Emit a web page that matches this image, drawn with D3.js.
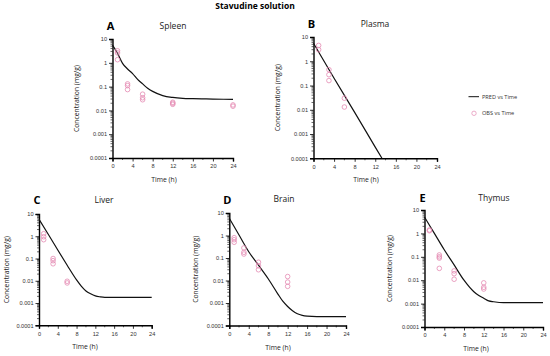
<!DOCTYPE html>
<html>
<head>
<meta charset="utf-8">
<script src="https://cdn.jsdelivr.net/npm/d3@7"></script>
<style>
  body { margin: 0; background: #fff; }
  svg { font-family: "Open Sans", sans-serif; }
</style>
</head>
<body>
<svg width="550" height="356"></svg>
<script>
// ---- data ----
var tissues = ["Spleen", "Plasma", "Liver", "Brain", "Thymus"];
var letters = ["A", "B", "C", "D", "E"];
var xTicks = [0, 4, 8, 12, 16, 20, 24];
var yTicks = [0.0001, 0.001, 0.01, 0.1, 1, 10];
var yTickLabels = ["0.0001", "0.001", "0.01", "0.1", "1", "10"];

// PRED vs Time
var predSpleenT = [0, 1, 2, 3, 4, 5, 6, 7, 8, 10, 12, 14, 16, 20, 24];
var predSpleen  = [5.5, 2.5, 0.95, 0.55, 0.35, 0.2, 0.13, 0.085, 0.063, 0.042, 0.035, 0.032, 0.031, 0.03, 0.029];
var predPlasmaT = [0, 4, 8, 12, 13.3];
var predPlasma  = [5.5, 0.2, 0.0078, 0.00029, 0.0001];
var predLiverT  = [0, 2, 4, 6, 8, 9, 10, 11, 12, 13, 14, 16, 20, 24];
var predLiver   = [5.8, 1.2, 0.24, 0.05, 0.011, 0.0058, 0.0035, 0.0026, 0.0021, 0.0019, 0.0018, 0.0018, 0.0018, 0.0018];
var predBrainT  = [0, 2, 4, 6, 8, 10, 11, 12, 13, 14, 15, 16, 18, 20, 24];
var predBrain   = [5.8, 1.05, 0.19, 0.048, 0.012, 0.0025, 0.0012, 0.0007, 0.00045, 0.00033, 0.00028, 0.00026, 0.00025, 0.00025, 0.00025];
var predThymusT = [0, 2, 4, 6, 8, 10, 11, 12, 13, 14, 16, 20, 24];
var predThymus  = [5, 1.0, 0.2, 0.045, 0.01, 0.0032, 0.0022, 0.0017, 0.0013, 0.0012, 0.0011, 0.0011, 0.0011];

// OBS vs Time
var obsSpleenT = [1, 1, 1, 3, 3, 3, 6, 6, 6, 12, 12, 12, 24, 24];
var obsSpleen  = [3.2, 2.6, 1.35, 0.13, 0.11, 0.075, 0.048, 0.034, 0.028, 0.022, 0.02, 0.018, 0.017, 0.015];
var obsPlasmaT = [1, 1, 3, 3, 3, 6, 6];
var obsPlasma  = [4.5, 3, 0.45, 0.28, 0.16, 0.03, 0.013];
var obsLiverT  = [1, 1, 1, 3, 3, 3, 6, 6];
var obsLiver   = [1.3, 0.95, 0.7, 0.1, 0.08, 0.058, 0.0095, 0.008];
var obsBrainT  = [1, 1, 1, 3, 3, 3, 6, 6, 6, 12, 12, 12];
var obsBrain   = [0.8, 0.65, 0.5, 0.28, 0.18, 0.15, 0.065, 0.045, 0.03, 0.015, 0.0085, 0.0055];
var obsThymusT = [1, 1, 3, 3, 3, 3, 6, 6, 6, 12, 12, 12];
var obsThymus  = [1.4, 1.3, 0.12, 0.1, 0.088, 0.032, 0.025, 0.019, 0.011, 0.0077, 0.005, 0.0042];

var predT = [predSpleenT, predPlasmaT, predLiverT, predBrainT, predThymusT];
var predC = [predSpleen, predPlasma, predLiver, predBrain, predThymus];
var obsT  = [obsSpleenT, obsPlasmaT, obsLiverT, obsBrainT, obsThymusT];
var obsC  = [obsSpleen, obsPlasma, obsLiver, obsBrain, obsThymus];

// ---- layout ----
var boxes = [
  {x0: 112.5, x1: 233, top: 39, bot: 158, titleX: 173, timeX: 164, ylabX: 77, letterY: 30},
  {x0: 313.5, x1: 437, top: 37, bot: 158.3, titleX: 375, timeX: 366, ylabX: 278, letterY: 28},
  {x0: 39, x1: 151.7, top: 214, bot: 325.3, titleX: 104, timeX: 85, ylabX: 6.5, letterY: 204},
  {x0: 229.3, x1: 346, top: 213, bot: 325.5, titleX: 284, timeX: 278, ylabX: 195.5, letterY: 203.5},
  {x0: 424.5, x1: 543, top: 210, bot: 327, titleX: 494, timeX: 476, ylabX: 389.5, letterY: 202}
];

var obsColor = "#e48ab3";
var svg = d3.select("svg");

svg.append("text")
    .attr("x", 255).attr("y", 9)
    .attr("text-anchor", "middle")
    .style("font-size", "8.5px").style("font-weight", "bold")
    .text("Stavudine solution");

boxes.forEach(function(b, i) {
  var g = svg.append("g");
  var x = d3.scaleLinear().domain([0, 24]).range([b.x0, b.x1]);
  var y = d3.scaleLog().domain([0.0001, 10]).range([b.bot, b.top]);

  // minor y ticks
  var minors = [];
  for (var e = -4; e < 1; e++) {
    for (var m = 2; m < 10; m++) minors.push(m * Math.pow(10, e));
  }
  g.selectAll(".ym").data(minors).enter().append("line")
      .attr("x1", b.x0 - 2).attr("x2", b.x0)
      .attr("y1", function(d) { return y(d); })
      .attr("y2", function(d) { return y(d); })
      .attr("stroke", "#000").attr("stroke-width", 0.6);

  var yAxis = g.append("g")
      .attr("transform", "translate(" + b.x0 + ",0)")
      .call(d3.axisLeft(y).tickValues(yTicks).tickSize(3.5).tickPadding(2)
        .tickFormat(function(d, k) { return yTickLabels[k]; }));

  // minor x ticks
  g.selectAll(".xm").data([2, 6, 10, 14, 18, 22]).enter().append("line")
      .attr("x1", function(d) { return x(d); })
      .attr("x2", function(d) { return x(d); })
      .attr("y1", b.bot).attr("y2", b.bot + 2)
      .attr("stroke", "#000").attr("stroke-width", 0.6);

  var xAxis = g.append("g")
      .attr("transform", "translate(0," + b.bot + ")")
      .call(d3.axisBottom(x).tickValues(xTicks).tickSize(3.5).tickPadding(3));

  [xAxis, yAxis].forEach(function(a) {
    a.select(".domain").attr("stroke-width", 1.4);
    a.selectAll(".tick line").attr("stroke-width", 0.8);
    a.selectAll("text").style("font-size", "5.6px").attr("fill", "#333");
  });

  // PRED line
  var pts = predT[i].map(function(t, k) { return [t, predC[i][k]]; });
  var line = d3.line()
      .x(function(d) { return x(d[0]); })
      .y(function(d) { return y(d[1]); })
      .curve(d3.curveMonotoneX);
  g.append("path")
      .datum(pts)
      .attr("d", line)
      .attr("fill", "none")
      .attr("stroke", "#111")
      .attr("stroke-width", 1.2);

  // OBS circles
  g.selectAll(".obs")
    .data(obsT[i].map(function(t, k) { return [t, obsC[i][k]]; }))
    .enter().append("circle")
      .attr("cx", function(d) { return x(d[0]); })
      .attr("cy", function(d) { return y(d[1]); })
      .attr("r", 2.3)
      .attr("fill", "none")
      .attr("stroke", obsColor)
      .attr("stroke-width", 0.8);

  // labels
  g.append("text")
      .attr("x", b.x0 - 2).attr("y", b.letterY)
      .attr("text-anchor", "middle")
      .style("font-size", "11px").style("font-weight", "bold")
      .text(letters[i]);
  g.append("text")
      .attr("x", b.titleX).attr("y", b.letterY - 1.5)
      .attr("text-anchor", "middle")
      .style("font-size", "8.5px").attr("fill", "#222")
      .text(tissues[i]);
  g.append("text")
      .attr("x", b.timeX).attr("y", b.bot + 24)
      .attr("text-anchor", "middle")
      .style("font-size", "6.8px").attr("fill", "#222")
      .text("Time (h)");
  g.append("text")
      .attr("transform", "translate(" + b.ylabX + "," + ((b.top + b.bot) / 2) + ") rotate(-90)")
      .attr("dy", "0.35em")
      .attr("text-anchor", "middle")
      .style("font-size", "6.8px").attr("fill", "#222")
      .text("Concentration (mg/g)");
});

// legend
var lg = svg.append("g");
lg.append("line").attr("x1", 468.5).attr("x2", 479).attr("y1", 96.7).attr("y2", 96.7)
    .attr("stroke", "#111").attr("stroke-width", 1);
lg.append("text").attr("x", 482).attr("y", 98.8)
    .style("font-size", "5.6px").attr("fill", "#333").text("PRED vs Time");
lg.append("circle").attr("cx", 474).attr("cy", 113.3).attr("r", 2.2)
    .attr("fill", "none").attr("stroke", obsColor).attr("stroke-width", 0.7);
lg.append("text").attr("x", 482).attr("y", 115.4)
    .style("font-size", "5.6px").attr("fill", "#333").text("OBS vs Time");
</script>
</body>
</html>
